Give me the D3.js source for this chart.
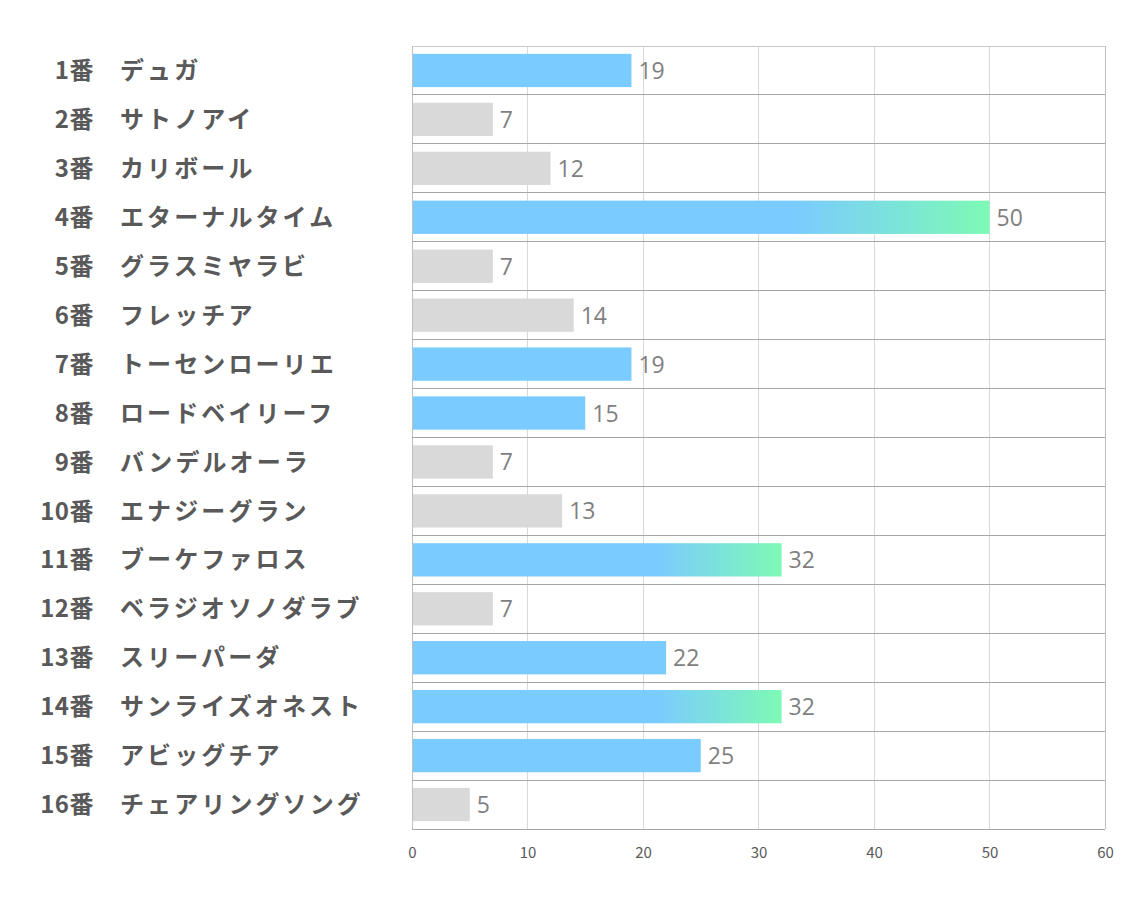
<!DOCTYPE html>
<html><head><meta charset="utf-8">
<script src="https://cdn.jsdelivr.net/npm/d3@7"></script>
<style>body{margin:0;background:#fff}</style>
</head><body>
<script>
const numbers = ["1番","2番","3番","4番","5番","6番","7番","8番","9番","10番","11番","12番","13番","14番","15番","16番"];
const names = ["デュガ","サトノアイ","カリボール","エターナルタイム","グラスミヤラビ","フレッチア","トーセンローリエ","ロードベイリーフ","バンデルオーラ","エナジーグラン","ブーケファロス","ベラジオソノダラブ","スリーパーダ","サンライズオネスト","アビッグチア","チェアリングソング"];
const values = [19,7,12,50,7,14,19,15,7,13,32,7,22,32,25,5];
const ticks = [0,10,20,30,40,50,60];

const W=1134,H=907;
const svg=d3.select("body").append("svg").attr("width",W).attr("height",H);
const defs=svg.append("defs");
const g=defs.append("linearGradient").attr("id","grad").attr("x1","0").attr("x2","1").attr("y1","0").attr("y2","0");
g.append("stop").attr("offset","0.66").attr("stop-color","#7acbff");
g.append("stop").attr("offset","1").attr("stop-color","#7dfab5");

const x=d3.scaleLinear().domain([0,60]).range([412,1105]);
const y=d3.scaleBand().domain(d3.range(16)).range([46,829]).paddingInner(0.32).paddingOuter(0.16);

svg.append("g").selectAll("line").data(ticks).join("line")
 .attr("x1",d=>x(d)).attr("x2",d=>x(d)).attr("y1",46).attr("y2",829)
 .attr("stroke",d=>(d===0||d===60)?"#bfbfbf":"#d9d9d9").attr("stroke-width",1).attr("shape-rendering","crispEdges");
svg.append("g").selectAll("line").data(d3.range(17)).join("line")
 .attr("x1",412).attr("x2",1105).attr("y1",i=>46+i*(783/16)).attr("y2",i=>46+i*(783/16))
 .attr("stroke",i=>i===0?"#c8c8c8":"#a6a6a6").attr("stroke-width",1).attr("shape-rendering","crispEdges");

const color=v=>v>=30?"url(#grad)":(v>=15?"#7acbff":"#d9d9d9");
svg.append("g").selectAll("rect").data(values).join("rect")
 .attr("x",x(0)+1).attr("y",(d,i)=>y(i)).attr("height",y.bandwidth())
 .attr("width",d=>x(d)-x(0)-1).attr("fill",d=>color(d));

svg.append("g").selectAll("text").data(values).join("text")
 .attr("x",d=>x(d)+7).attr("y",(d,i)=>y(i)+y.bandwidth()/2).attr("dy","0.37em")
 .attr("font-family","'Open Sans','Noto Sans',sans-serif").attr("font-size",23).attr("fill","#7f7f7f")
 .text(d=>d);

const lab=svg.append("g").attr("font-family","'Noto Sans CJK JP',sans-serif").attr("font-weight","bold").attr("font-size",24).attr("fill","#595959");
lab.selectAll(".n").data(numbers).join("text").attr("class","n")
 .attr("x",94).attr("text-anchor","end").attr("letter-spacing",0.5).attr("y",(d,i)=>y(i)+y.bandwidth()/2).attr("dy","0.36em").text(d=>d);
lab.selectAll(".m").data(names).join("text").attr("class","m")
 .attr("x",120).attr("letter-spacing",3.1).attr("y",(d,i)=>y(i)+y.bandwidth()/2).attr("dy","0.36em").text(d=>d);

const ax=svg.append("g").attr("transform","translate(0,829)")
 .call(d3.axisBottom(x).tickValues(ticks).tickSize(0).tickPadding(18));
ax.select(".domain").remove();
ax.selectAll("text").attr("font-family","'Noto Sans CJK JP',sans-serif").attr("font-size",15).attr("fill","#595959");
</script>
</body></html>
